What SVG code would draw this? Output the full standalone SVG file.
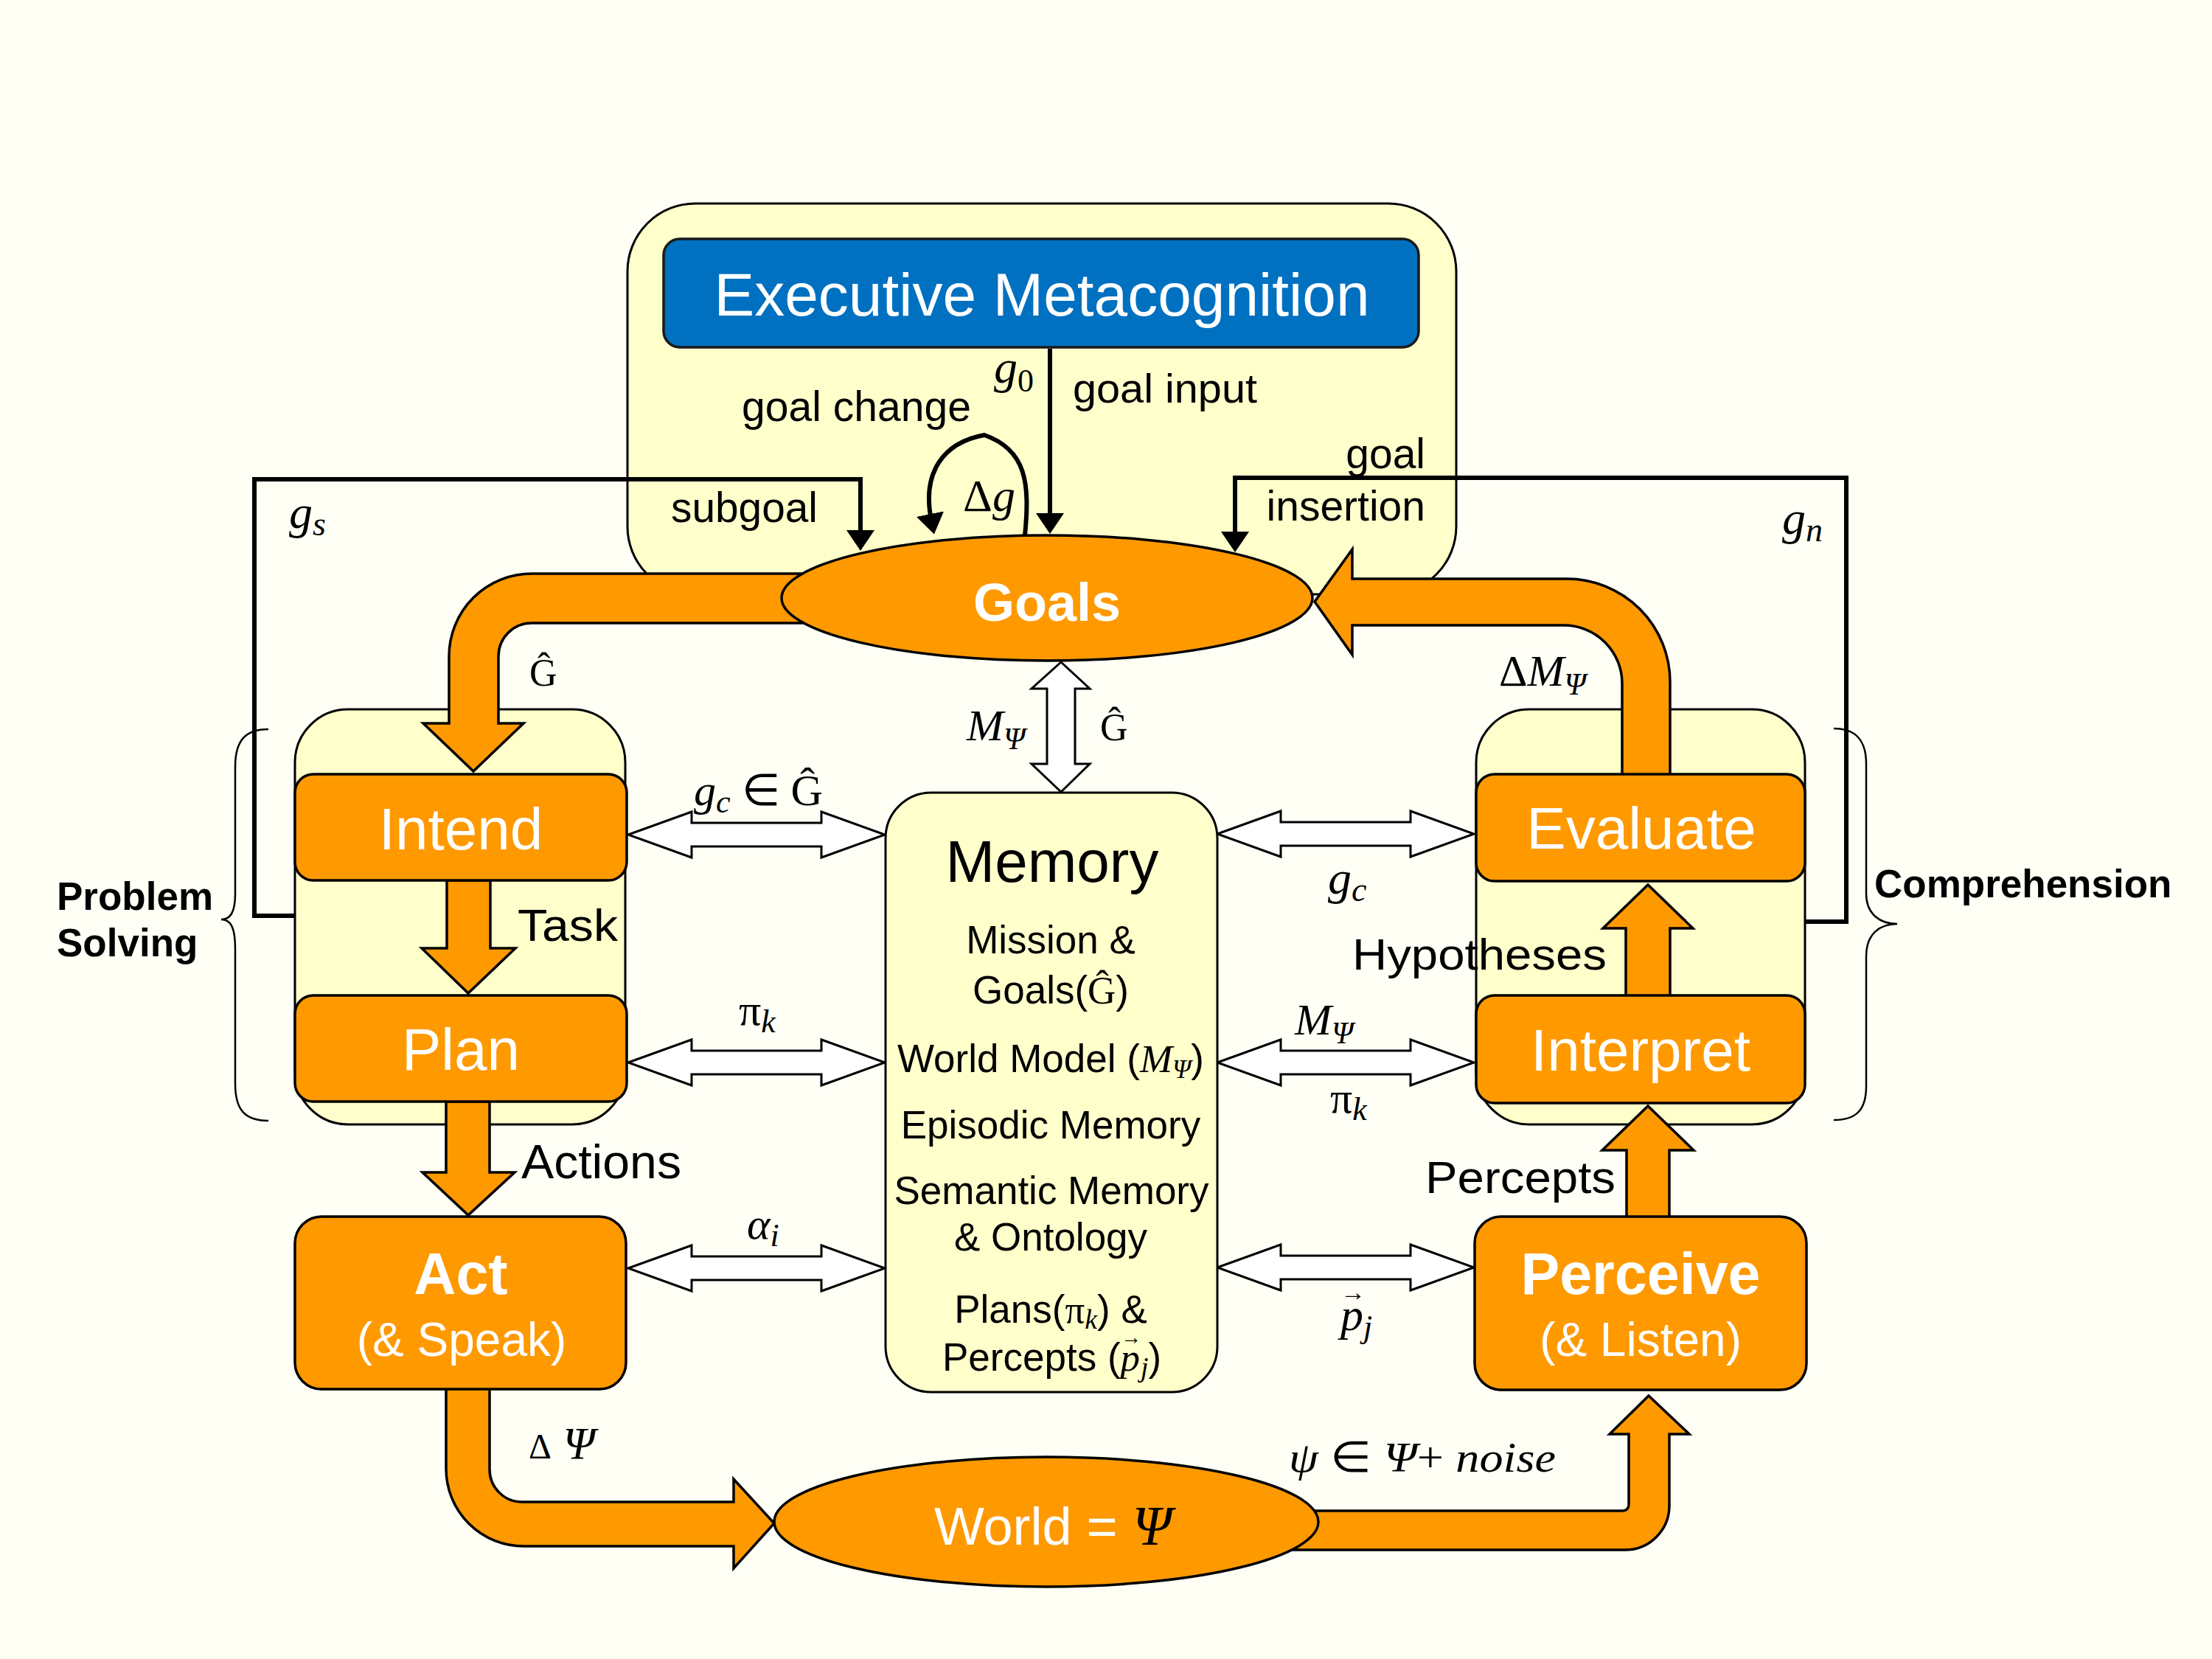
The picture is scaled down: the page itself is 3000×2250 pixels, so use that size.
<svg xmlns="http://www.w3.org/2000/svg" xmlns:xlink="http://www.w3.org/1999/xlink" width="3000" height="2250" viewBox="0 0 3000 2250">
<style>
.bg{fill:#FFFFF6}
.frame{fill:#FFFFCC;stroke:#000;stroke-width:3}
.box{fill:#FF9900;stroke:#000;stroke-width:3.5}
.band{fill:#FF9900;stroke:#000;stroke-width:3.5;stroke-linejoin:miter}
.dbl{fill:#FFFFFF;stroke:#000;stroke-width:3;stroke-linejoin:miter}
.ln{fill:none;stroke:#000;stroke-width:6}
.brace{fill:none;stroke:#000;stroke-width:2.5}
.s{font-family:"Liberation Sans",Arial,sans-serif}
.w{fill:#FFFFFF}
.k{fill:#000}
.b{font-weight:bold}
.m{font-family:"Liberation Serif","Times New Roman",serif;font-style:italic;fill:#000}
.u{font-style:normal}
</style>
<defs>
<marker id="ah" markerUnits="userSpaceOnUse" markerWidth="28" markerHeight="38" viewBox="0 0 28 38" refX="8" refY="19" orient="auto">
<path d="M0,0 L28,19 L0,38 Z" fill="#000"/>
</marker>
<polygon id="dah" points="0,0 86,-31 86,-16 262,-16 262,-31 348,0 262,31 262,16 86,16 86,31"/>
</defs>
<rect class="bg" x="0" y="0" width="3000" height="2250"/>

<g id="executive-frame">
<rect class="frame" x="851" y="276" width="1124" height="530" rx="92"/>
</g>
<g id="problem-solving-group">
<rect class="frame" x="400" y="962" width="448" height="563" rx="72"/>
<path class="brace" d="M364,989 C332,989 319,1005 319,1040 L319,1212 C319,1238 312,1247 300,1247 C312,1247 319,1256 319,1287 L319,1470 C319,1505 332,1520 364,1520"/>
<text class="s k b" x="77" y="1234" font-size="53">Problem</text>
<text class="s k b" x="77" y="1297" font-size="53">Solving</text>
</g>
<g id="comprehension-group">
<rect class="frame" x="2002" y="962" width="446" height="563" rx="72"/>
<path class="brace" d="M2487,988 C2518,988 2531,1005 2531,1036 L2531,1212 C2531,1240 2550,1253 2573,1253 C2550,1253 2531,1266 2531,1297 L2531,1473 C2531,1505 2518,1519 2487,1519"/>
<text class="s k b" x="2542" y="1217" font-size="53">Comprehension</text>
</g>

<g id="connectors">
<!-- orange flow arrows -->
<path class="band" d="M1150,778 L721,778 A112,112 0 0 0 609,890 L609,981 L574,981 L642,1046 L710,981 L676,981 L676,890 A45,45 0 0 1 721,845 L1150,845 Z"/>
<path class="band" d="M2200,1052 L2200,927 A79,79 0 0 0 2121,848 L1834,848 L1834,888 L1783,816 L1834,745 L1834,785 L2125,785 A140,140 0 0 1 2265,925 L2265,1052 Z"/>
<path class="band" d="M606,1194 L606,1286 L572,1286 L635,1347 L699,1286 L665,1286 L665,1194 Z"/>
<path class="band" d="M605,1494 L605,1590 L573,1590 L635,1648 L698,1590 L664,1590 L664,1494 Z"/>
<path class="band" d="M2205,1352 L2205,1259 L2174,1259 L2235,1200 L2296,1259 L2265,1259 L2265,1352 Z"/>
<path class="band" d="M2206,1652 L2206,1560 L2173,1560 L2235,1500 L2297,1560 L2264,1560 L2264,1652 Z"/>
<path class="band" d="M605,1882 L605,1992 A105,105 0 0 0 710,2097 L995,2097 L995,2127 L1050,2066 L995,2006 L995,2037 L708,2037 A44,44 0 0 1 664,1993 L664,1882 Z"/>
<path class="band" d="M1700,2049 L2201,2049 A8,8 0 0 0 2209,2041 L2209,1945 L2183,1945 L2236,1893 L2291,1945 L2264,1945 L2264,2042 A60,60 0 0 1 2204,2102 L1700,2102 Z"/>
<!-- black control lines -->
<path class="ln" stroke-width="5" d="M1424,473 L1424,704" marker-end="url(#ah)"/>
<path class="ln" d="M400,1242 L345,1242 L345,650 L1167,650 L1167,727" marker-end="url(#ah)"/>
<path class="ln" d="M2448,1250 L2504,1250 L2504,648 L1675,648 L1675,729" marker-end="url(#ah)"/>
<path class="ln" d="M1390,726 C1397,655 1392,610 1335,590 C1280,600 1250,640 1263,705" marker-end="url(#ah)"/>
<!-- memory exchange arrows -->
<use class="dbl" xlink:href="#dah" href="#dah" x="852" y="1132"/>
<use class="dbl" xlink:href="#dah" href="#dah" x="852" y="1441"/>
<use class="dbl" xlink:href="#dah" href="#dah" x="852" y="1720"/>
<use class="dbl" xlink:href="#dah" href="#dah" x="1651" y="1131"/>
<use class="dbl" xlink:href="#dah" href="#dah" x="1651" y="1441"/>
<use class="dbl" xlink:href="#dah" href="#dah" x="1651" y="1719"/>
<polygon class="dbl" points="1439,898 1478,934 1458,934 1458,1036 1478,1036 1439,1074 1399,1036 1420,1036 1420,934 1399,934"/>
<!-- labels -->
<text class="s k" x="1006" y="571" font-size="57" textLength="311" lengthAdjust="spacingAndGlyphs">goal change</text>
<text class="s k" x="1455" y="546" font-size="56" textLength="250" lengthAdjust="spacingAndGlyphs">goal input</text>
<text class="s k" x="910" y="708" font-size="57" textLength="199" lengthAdjust="spacingAndGlyphs">subgoal</text>
<text class="s k" x="1933" y="635" font-size="57" text-anchor="end">goal</text>
<text class="s k" x="1933" y="706" font-size="57" text-anchor="end">insertion</text>
<text class="m" x="1348" y="519" font-size="64">g<tspan class="u" font-size="44" dy="12">0</tspan></text>
<text class="m" x="1306" y="693" font-size="62"><tspan class="u">Δ</tspan>g</text>
<text class="m" x="392" y="716" font-size="64">g<tspan font-size="46" dy="10">s</tspan></text>
<text class="m" x="2417" y="724" font-size="64">g<tspan font-size="46" dy="10">n</tspan></text>
<text class="m u" x="718" y="930" font-size="52">Ĝ</text>
<text class="m" x="2033" y="930" font-size="60"><tspan class="u">Δ</tspan>M<tspan font-size="42" dy="12">Ψ</tspan></text>
<text class="m" x="1311" y="1004" font-size="60">M<tspan font-size="42" dy="12">Ψ</tspan></text>
<text class="m u" x="1492" y="1004" font-size="52">Ĝ</text>
<text class="m" x="941" y="1092" font-size="60">g<tspan font-size="44" dy="10">c</tspan><tspan class="u" dy="-10"> ∈ Ĝ</tspan></text>
<text class="s k" x="702" y="1276" font-size="62" textLength="136" lengthAdjust="spacingAndGlyphs">Task</text>
<text class="m" x="1002" y="1390" font-size="60"><tspan class="u">π</tspan><tspan font-size="44" dy="10">k</tspan></text>
<text class="s k" x="707" y="1598" font-size="64" textLength="217" lengthAdjust="spacingAndGlyphs">Actions</text>
<text class="m" x="1013" y="1680" font-size="60">α<tspan font-size="44" dy="10">i</tspan></text>
<text class="m" x="1801" y="1212" font-size="64">g<tspan font-size="46" dy="10">c</tspan></text>
<text class="s k" x="1834" y="1315" font-size="60" textLength="345" lengthAdjust="spacingAndGlyphs">Hypotheses</text>
<text class="m" x="1756" y="1403" font-size="60">M<tspan font-size="42" dy="12">Ψ</tspan></text>
<text class="m" x="1804" y="1509" font-size="60"><tspan class="u">π</tspan><tspan font-size="44" dy="10">k</tspan></text>
<text class="s k" x="1933" y="1618" font-size="62" textLength="258" lengthAdjust="spacingAndGlyphs">Percepts</text>
<text class="m" x="1818" y="1804" font-size="62">p<tspan class="u" x="1818" dy="-40" font-size="34">→</tspan><tspan x="1849" dy="50" font-size="44">j</tspan></text>
<text class="m" x="717" y="1978" font-size="62"><tspan class="u" font-size="48">Δ</tspan> Ψ</text>
<text class="m" x="1748" y="1996" font-size="58" textLength="362" lengthAdjust="spacingAndGlyphs">ψ<tspan class="u"> ∈ </tspan>Ψ<tspan class="u">+ </tspan>noise</text>
</g>

<g id="executive-metacognition">
<rect x="900" y="324" width="1024" height="147" rx="22" fill="#0070C0" stroke="#1a1a1a" stroke-width="3.5"/>
<text class="s w" x="1413" y="428" font-size="82" text-anchor="middle" textLength="889" lengthAdjust="spacingAndGlyphs">Executive Metacognition</text>
</g>
<g id="goals">
<ellipse class="box" cx="1420" cy="811" rx="360" ry="85"/>
<text class="s w b" x="1420" y="842" font-size="72" text-anchor="middle">Goals</text>
</g>
<g id="intend">
<rect class="box" x="400" y="1050" width="450" height="144" rx="25"/>
<text class="s w" x="625" y="1152" font-size="80" text-anchor="middle">Intend</text>
</g>
<g id="plan">
<rect class="box" x="400" y="1350" width="450" height="144" rx="25"/>
<text class="s w" x="625" y="1451" font-size="80" text-anchor="middle">Plan</text>
</g>
<g id="act">
<rect class="box" x="400" y="1650" width="449" height="234" rx="36"/>
<text class="s w b" x="625" y="1755" font-size="79" text-anchor="middle">Act</text>
<text class="s w" x="626" y="1839" font-size="64" text-anchor="middle">(&amp; Speak)</text>
</g>
<g id="evaluate">
<rect class="box" x="2002" y="1050" width="446" height="145" rx="25"/>
<text class="s w" x="2226" y="1151" font-size="80" text-anchor="middle">Evaluate</text>
</g>
<g id="interpret">
<rect class="box" x="2002" y="1350" width="446" height="146" rx="25"/>
<text class="s w" x="2225" y="1452" font-size="80" text-anchor="middle">Interpret</text>
</g>
<g id="perceive">
<rect class="box" x="2000" y="1650" width="450" height="235" rx="36"/>
<text class="s w b" x="2225" y="1755" font-size="79" text-anchor="middle">Perceive</text>
<text class="s w" x="2225" y="1839" font-size="64" text-anchor="middle">(&amp; Listen)</text>
</g>
<g id="memory">
<rect class="frame" x="1201" y="1075" width="450" height="813" rx="62"/>
<text class="s k" x="1427" y="1196" font-size="80" text-anchor="middle">Memory</text>
<text class="s k" x="1425" y="1293" font-size="53" text-anchor="middle">Mission &amp;</text>
<text class="s k" x="1425" y="1361" font-size="53" text-anchor="middle">Goals(<tspan class="m u">Ĝ</tspan>)</text>
<text class="s k" x="1425" y="1454" font-size="53" text-anchor="middle">World Model (<tspan class="m">M</tspan><tspan class="m" font-size="36" dy="8">Ψ</tspan><tspan dy="-8">)</tspan></text>
<text class="s k" x="1425" y="1544" font-size="53" text-anchor="middle">Episodic Memory</text>
<text class="s k" x="1426" y="1633" font-size="53" text-anchor="middle">Semantic Memory</text>
<text class="s k" x="1425" y="1696" font-size="53" text-anchor="middle">&amp; Ontology</text>
<text class="s k" x="1425" y="1794" font-size="53" text-anchor="middle">Plans(<tspan class="m u">π</tspan><tspan class="m" font-size="38" dy="8">k</tspan><tspan dy="-8">) &amp;</tspan></text>
<text class="s k" x="1278" y="1859" font-size="53">Percepts (<tspan class="m">p</tspan><tspan class="m u" x="1520" dy="-36" font-size="28">→</tspan><tspan class="m" x="1547" dy="44" font-size="38">j</tspan><tspan dy="-8">)</tspan></text>
</g>
<g id="world">
<ellipse class="box" cx="1419" cy="2064" rx="369" ry="88"/>
<text class="s w" x="1428" y="2095" font-size="72" text-anchor="middle">World = <tspan class="m w" font-size="76">Ψ</tspan></text>
</g>
</svg>
